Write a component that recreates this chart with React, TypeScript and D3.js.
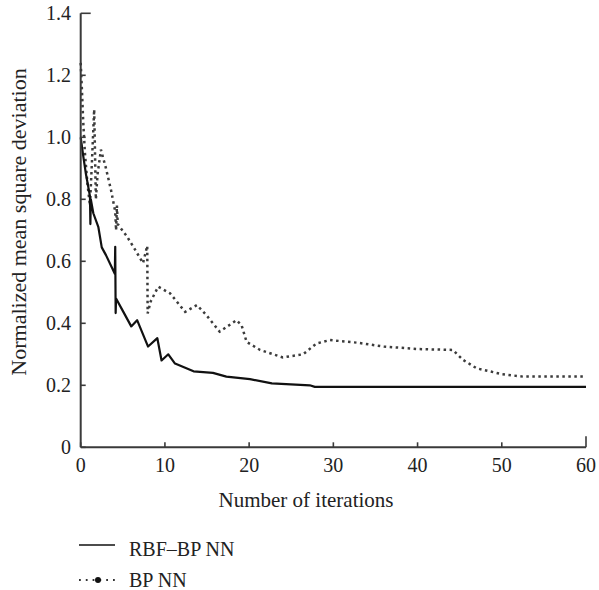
import React from "react";
import { scaleLinear, line } from "d3";

// iteration / normalized MSD pairs
const rbfIter = [0, 0.3, 0.6, 0.9, 1.1, 1.15, 1.2, 1.5, 2.1, 2.5, 3.0, 3.7, 4.05, 4.1, 4.15, 4.2, 5.0, 6.0, 6.7, 8.0, 9.1, 9.6, 10.4, 11.2, 13.4, 15.7, 17.3, 20.1, 22.7, 27.2, 27.8, 60];
const rbfMsd = [1.0, 0.94, 0.885, 0.84, 0.81, 0.72, 0.8, 0.755, 0.71, 0.645, 0.62, 0.58, 0.56, 0.647, 0.433, 0.48, 0.44, 0.39, 0.41, 0.325, 0.352, 0.28, 0.3, 0.27, 0.245, 0.24, 0.228, 0.22, 0.206, 0.2, 0.195, 0.195];

const bpIter = [0, 0.15, 0.3, 0.5, 0.8, 1.1, 1.3, 1.6, 1.7, 1.8, 2.0, 2.4, 3.0, 3.6, 4.1, 4.2, 4.3, 4.4, 5.5, 6.4, 7.4, 7.9, 7.95, 8.3, 9.2, 10.6, 12.4, 13.8, 14.9, 16.5, 18.5, 19.1, 19.7, 21.3, 24, 26.4, 28, 29.6, 33, 36, 40, 44.2, 45.4, 47, 50, 52.5, 60];
const bpMsd = [1.24, 1.15, 1.05, 0.95, 0.85, 0.78, 0.9, 1.09, 0.95, 0.8, 0.88, 0.96, 0.9, 0.83, 0.76, 0.7, 0.78, 0.72, 0.68, 0.64, 0.594, 0.65, 0.432, 0.47, 0.518, 0.497, 0.437, 0.459, 0.427, 0.373, 0.41, 0.394, 0.34, 0.314, 0.29, 0.3, 0.335, 0.346, 0.337, 0.325, 0.317, 0.314, 0.282, 0.255, 0.236, 0.228, 0.228];

const xTicks = [0, 10, 20, 30, 40, 50, 60];
const yTicks = [0, 0.2, 0.4, 0.6, 0.8, 1.0, 1.2, 1.4];
const yTickLabels = ["0", "0.2", "0.4", "0.6", "0.8", "1.0", "1.2", "1.4"];
const seriesNames = ["RBF\u2013BP NN", "BP NN"];

const font = "'Liberation Serif', 'Times New Roman', serif";
const axisColor = "#3a3a3a";
const textColor = "#222";

export default function App() {
  const x = scaleLinear().domain([0, 60]).range([80.7, 586]);
  const y = scaleLinear().domain([0, 1.4]).range([447.3, 13.3]);

  const toPath = line<[number, number]>()
    .x((d) => x(d[0]))
    .y((d) => y(d[1]));
  const rbfPath = toPath(rbfIter.map((v, i) => [v, rbfMsd[i]] as [number, number]));
  const bpPath = toPath(bpIter.map((v, i) => [v, bpMsd[i]] as [number, number]));

  return (
    <svg
      width={599}
      height={590}
      style={{ position: "absolute", left: 0, top: 0, background: "#fff" }}
    >
      {/* series */}
      <path d={bpPath || ""} fill="none" stroke="#3c3c3c" strokeWidth={2.5} strokeDasharray="2.5 3.5" />
      <path d={rbfPath || ""} fill="none" stroke="#111" strokeWidth={2.2} strokeLinejoin="round" />

      {/* axes */}
      <line x1={x(0)} x2={x(0)} y1={y(1.4)} y2={y(0)} stroke={axisColor} strokeWidth={2} />
      <line x1={x(0)} x2={x(60)} y1={y(0)} y2={y(0)} stroke={axisColor} strokeWidth={2} />
      {yTicks.map((t, i) => (
        <g key={"y" + t}>
          <line
            x1={x(0)}
            x2={x(0) + (t === 1.4 ? 10 : 5)}
            y1={y(t)}
            y2={y(t)}
            stroke={axisColor}
            strokeWidth={1.6}
          />
          <text
            x={71}
            y={y(t)}
            dy="0.34em"
            textAnchor="end"
            fontFamily={font}
            fontSize={20}
            fill={textColor}
          >
            {yTickLabels[i]}
          </text>
        </g>
      ))}
      {xTicks.map((t) => (
        <g key={"x" + t}>
          <line
            x1={x(t)}
            x2={x(t)}
            y1={y(0)}
            y2={y(0) - (t === 60 ? 11 : 5)}
            stroke={axisColor}
            strokeWidth={1.6}
          />
          <text
            x={x(t)}
            y={472}
            textAnchor="middle"
            fontFamily={font}
            fontSize={20}
            fill={textColor}
          >
            {t}
          </text>
        </g>
      ))}

      {/* axis titles */}
      <text x={306} y={507} textAnchor="middle" fontFamily={font} fontSize={21} fill={textColor}>
        Number of iterations
      </text>
      <text
        transform="translate(26,222) rotate(-90)"
        textAnchor="middle"
        fontFamily={font}
        fontSize={22}
        fill={textColor}
      >
        Normalized mean square deviation
      </text>

      {/* legend */}
      <line x1={79} x2={115} y1={545} y2={545} stroke="#111" strokeWidth={1.6} />
      <text x={129} y={555.5} fontFamily={font} fontSize={20} fill={textColor}>
        {seriesNames[0]}
      </text>
      <line x1={79} x2={115} y1={580} y2={580} stroke="#333" strokeWidth={1.8} strokeDasharray="1.8 5" />
      <circle cx={98} cy={580} r={3} fill="#111" />
      <text x={129} y={586.5} fontFamily={font} fontSize={20} fill={textColor}>
        {seriesNames[1]}
      </text>
    </svg>
  );
}
